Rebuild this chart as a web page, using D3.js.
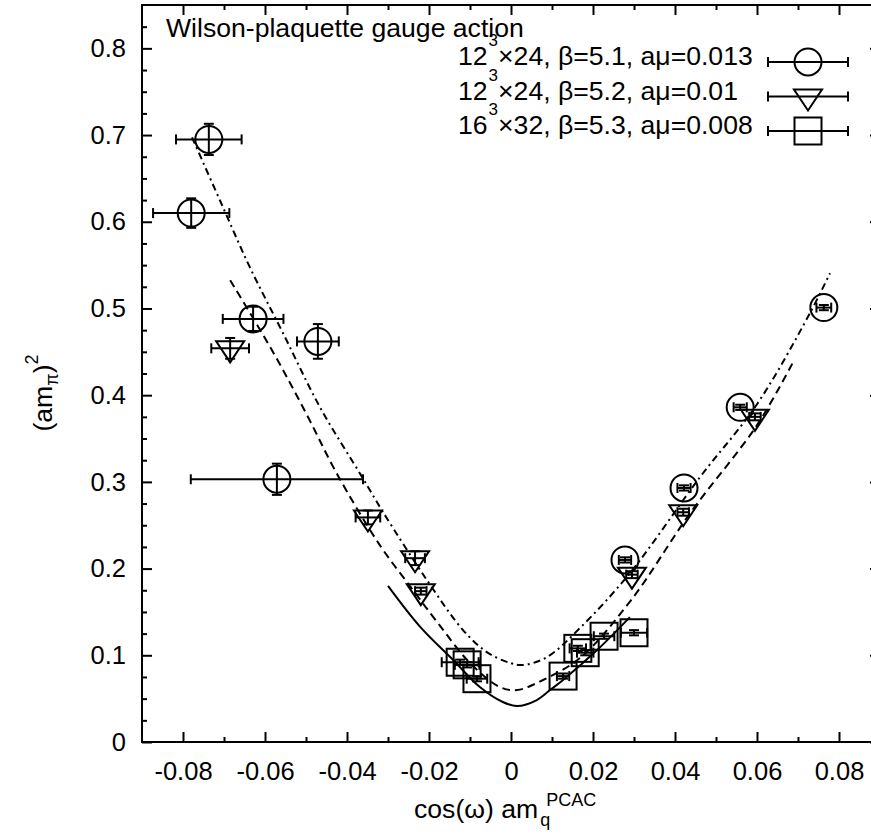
<!DOCTYPE html>
<html><head><meta charset="utf-8">
<script src="https://cdn.jsdelivr.net/npm/d3@7"></script>
<style>
body{margin:0;background:#fff}
svg{display:block}
text{font-family:"Liberation Sans",Arial,Helvetica,sans-serif;fill:#000}
</style>
</head><body>
<svg id="c" width="871" height="836"></svg>
<script>
// ---- tick data ----
const xMajorTicks = [-0.08,-0.06,-0.04,-0.02,0,0.02,0.04,0.06,0.08];
const xTickLabels = ["-0.08","-0.06","-0.04","-0.02","0","0.02","0.04","0.06","0.08"];
const xMinorTicks = [-0.07,-0.05,-0.03,-0.01,0.01,0.03,0.05,0.07];
const yMajorTicks = [0,0.1,0.2,0.3,0.4,0.5,0.6,0.7,0.8];
const yTickLabels = ["0","0.1","0.2","0.3","0.4","0.5","0.6","0.7","0.8"];
const yMinorTicks = [0.025,0.05,0.075,0.125,0.15,0.175,0.225,0.25,0.275,0.325,0.35,0.375,0.425,0.45,0.475,0.525,0.55,0.575,0.625,0.65,0.675,0.725,0.75,0.775,0.825];

// ---- series: beta=5.1 (circles) ----
const b51X    = [-0.0737,-0.0780,-0.0629,-0.0471,-0.0571,0.0278,0.0422,0.0559,0.0763];
const b51Y    = [0.695,0.610,0.488,0.462,0.303,0.210,0.293,0.386,0.501];
const b51XErr = [0.0080,0.0093,0.0074,0.0051,0.0210,0.0015,0.0016,0.0016,0.0018];
const b51YErr = [0.018,0.017,0.014,0.020,0.018,0.003,0.003,0.003,0.003];
// ---- beta=5.2 (triangles) ----
const b52X    = [-0.0685,-0.0349,-0.0234,-0.0220,0.0295,0.0420,0.0595];
const b52Y    = [0.454,0.259,0.212,0.174,0.193,0.265,0.375];
const b52XErr = [0.0046,0.0030,0.0024,0.0014,0.0014,0.0014,0.0014];
const b52YErr = [0.012,0.008,0.008,0.004,0.004,0.004,0.004];
// ---- beta=5.3 (squares) ----
const b53X    = [-0.0124,-0.0107,-0.0083,0.0127,0.0163,0.0181,0.0227,0.0300];
const b53Y    = [0.092,0.089,0.073,0.076,0.108,0.103,0.122,0.126];
const b53XErr = [0.0045,0.0030,0.0025,0.0015,0.0020,0.0020,0.0025,0.0032];
const b53YErr = [0.003,0.003,0.003,0.003,0.003,0.003,0.003,0.003];

// ---- fit curves ----
const fit51X = [-0.0778,-0.0710,-0.0637,-0.0556,-0.0466,-0.0363,-0.0312,-0.0205,-0.0117,-0.0059,-0.0002,0.0029,0.0088,0.0168,0.0290,0.0461,0.0600,0.0729,0.0778];
const fit51Y = [0.6974,0.6248,0.5476,0.4715,0.3862,0.3055,0.2651,0.1867,0.1291,0.1037,0.0911,0.0888,0.0980,0.1314,0.1948,0.3055,0.3896,0.4945,0.5406];
const fit52X = [-0.0685,-0.0583,-0.0500,-0.0424,-0.0320,-0.0239,-0.0180,-0.0100,-0.0027,0.0015,0.0078,0.0168,0.0293,0.0437,0.0600,0.0688];
const fit52Y = [0.5326,0.4519,0.3793,0.3089,0.2271,0.1752,0.1383,0.0911,0.0634,0.0599,0.0715,0.0968,0.1637,0.2640,0.3654,0.4380];
const fit53X = [-0.0300,-0.0222,-0.0141,-0.0076,-0.0020,0.0015,0.0063,0.0095,0.0127,0.0210,0.0290];
const fit53Y = [0.180,0.133,0.0945,0.0634,0.0461,0.0415,0.0484,0.0599,0.0715,0.106,0.144];

const legendLabels = [
  {a:"12", sup:"3", b:"×24, β=5.1, aμ=0.013", m:"circle"},
  {a:"12", sup:"3", b:"×24, β=5.2, aμ=0.01",  m:"tri"},
  {a:"16", sup:"3", b:"×32, β=5.3, aμ=0.008", m:"square"}
];

const svg = d3.select("#c");
const x = d3.scaleLinear().domain([-0.09,0.09]).range([142,880]);
const y = d3.scaleLinear().domain([0,0.85]).range([742,5]);
const FS = 26.6;   // title / legend / axis titles
const TFS = 25.5;  // tick labels

function styleAxis(g){
  g.select(".domain").remove();
  g.selectAll(".tick line").attr("stroke","#000").attr("stroke-width",2);
  g.attr("font-family",null).attr("font-size",TFS);
  g.selectAll("text").attr("fill","#000");
}
// bottom
svg.append("g").attr("transform","translate(0,742)")
  .call(d3.axisBottom(x).tickValues(xMajorTicks).tickSizeInner(-10).tickSizeOuter(0).tickPadding(20)
  .tickFormat((d,i)=>xTickLabels[i])).call(styleAxis);
svg.append("g").attr("transform","translate(0,742)")
  .call(d3.axisBottom(x).tickValues(xMinorTicks).tickSizeInner(-5).tickSizeOuter(0).tickFormat("")).call(styleAxis);
// top
svg.append("g").attr("transform","translate(0,5)")
  .call(d3.axisTop(x).tickValues(xMajorTicks).tickSizeInner(-10).tickSizeOuter(0).tickFormat("")).call(styleAxis);
svg.append("g").attr("transform","translate(0,5)")
  .call(d3.axisTop(x).tickValues(xMinorTicks).tickSizeInner(-5).tickSizeOuter(0).tickFormat("")).call(styleAxis);
// left
svg.append("g").attr("transform","translate(142,0)")
  .call(d3.axisLeft(y).tickValues(yMajorTicks).tickSizeInner(-10).tickSizeOuter(0).tickPadding(16)
  .tickFormat((d,i)=>yTickLabels[i])).call(styleAxis);
svg.append("g").attr("transform","translate(142,0)")
  .call(d3.axisLeft(y).tickValues(yMinorTicks).tickSizeInner(-5).tickSizeOuter(0).tickFormat("")).call(styleAxis);
// right
svg.append("g").attr("transform","translate(880,0)")
  .call(d3.axisRight(y).tickValues(yMajorTicks).tickSizeInner(-10).tickSizeOuter(0).tickFormat("")).call(styleAxis);
svg.append("g").attr("transform","translate(880,0)")
  .call(d3.axisRight(y).tickValues(yMinorTicks).tickSizeInner(-5).tickSizeOuter(0).tickFormat("")).call(styleAxis);

// frame
svg.append("rect").attr("x",x.range()[0]).attr("y",y.range()[1])
  .attr("width",x.range()[1]-x.range()[0]).attr("height",y.range()[0]-y.range()[1])
  .attr("fill","none").attr("stroke","#000").attr("stroke-width",2);

// curves
const line = d3.line().x(d=>x(d[0])).y(d=>y(d[1])).curve(d3.curveCatmullRom.alpha(0.5));
function curve(xs,ys,dash){
  svg.append("path").datum(xs.map((v,i)=>[v,ys[i]])).attr("d",line)
    .attr("fill","none").attr("stroke","#000").attr("stroke-width",2)
    .attr("stroke-dasharray",dash);
}
curve(fit51X,fit51Y,"7,4,2,4");
curve(fit52X,fit52Y,"8,5");
curve(fit53X,fit53Y,null);

// markers
const CAP = 5;
function marker(g,cx,cy,type){
  if(type==="circle"){
    g.append("circle").attr("cx",cx).attr("cy",cy).attr("r",13.5)
      .attr("fill","none").attr("stroke","#000").attr("stroke-width",2);
  } else if(type==="tri"){
    g.append("path").attr("d",`M${cx-14},${cy-7}L${cx+14},${cy-7}L${cx},${cy+14}Z`)
      .attr("fill","none").attr("stroke","#000").attr("stroke-width",2);
  } else {
    g.append("rect").attr("x",cx-13.5).attr("y",cy-13.5).attr("width",27).attr("height",27)
      .attr("fill","none").attr("stroke","#000").attr("stroke-width",2);
  }
}
function series(xs,ys,xe,ye,type){
  const g = svg.append("g").attr("stroke","#000").attr("stroke-width",2);
  xs.forEach((v,i)=>{
    const cx=x(v), cy=y(ys[i]);
    const x0=x(v-xe[i]), x1=x(v+xe[i]), y0=y(ys[i]-ye[i]), y1=y(ys[i]+ye[i]);
    g.append("line").attr("x1",x0).attr("x2",x1).attr("y1",cy).attr("y2",cy);
    g.append("line").attr("x1",x0).attr("x2",x0).attr("y1",cy-CAP).attr("y2",cy+CAP);
    g.append("line").attr("x1",x1).attr("x2",x1).attr("y1",cy-CAP).attr("y2",cy+CAP);
    g.append("line").attr("x1",cx).attr("x2",cx).attr("y1",y0).attr("y2",y1);
    g.append("line").attr("x1",cx-CAP).attr("x2",cx+CAP).attr("y1",y0).attr("y2",y0);
    g.append("line").attr("x1",cx-CAP).attr("x2",cx+CAP).attr("y1",y1).attr("y2",y1);
    marker(g,cx,cy,type);
  });
}
series(b51X,b51Y,b51XErr,b51YErr,"circle");
series(b52X,b52Y,b52XErr,b52YErr,"tri");
series(b53X,b53Y,b53XErr,b53YErr,"square");

// title
svg.append("text").attr("x",166).attr("y",37).attr("font-size",FS).text("Wilson-plaquette gauge action");

// legend
const rowY = [62,96.5,131];
legendLabels.forEach((L,i)=>{
  const t = svg.append("text").attr("x",458).attr("y",rowY[i]+3).attr("font-size",FS);
  t.append("tspan").text(L.a);
  t.append("tspan").attr("font-size",17).attr("dx",1).attr("dy",-19).text(L.sup);
  t.append("tspan").attr("dy",19).text(L.b);
  const g = svg.append("g").attr("stroke","#000").attr("stroke-width",2);
  const ly = rowY[i];
  g.append("line").attr("x1",768).attr("x2",848).attr("y1",ly).attr("y2",ly);
  g.append("line").attr("x1",768).attr("x2",768).attr("y1",ly-CAP).attr("y2",ly+CAP);
  g.append("line").attr("x1",848).attr("x2",848).attr("y1",ly-CAP).attr("y2",ly+CAP);
  marker(g,808,ly,L.m);
});

// axis titles
const xt = svg.append("text").attr("x",414).attr("y",818).attr("font-size",FS);
xt.append("tspan").text("cos(ω) am");
xt.append("tspan").attr("font-size",18).attr("dx",2).attr("dy",8).text("q");
xt.append("tspan").attr("font-size",18).attr("dx",-4).attr("dy",-20).text("PCAC");

const yt = svg.append("text").attr("transform","translate(52,393) rotate(-90)").attr("text-anchor","middle").attr("font-size",FS);
yt.append("tspan").text("(am");
yt.append("tspan").attr("font-size",18).attr("dy",6).text("π");
yt.append("tspan").attr("dy",-6).text(")");
yt.append("tspan").attr("font-size",18).attr("dy",-14).text("2");
</script>
</body></html>
